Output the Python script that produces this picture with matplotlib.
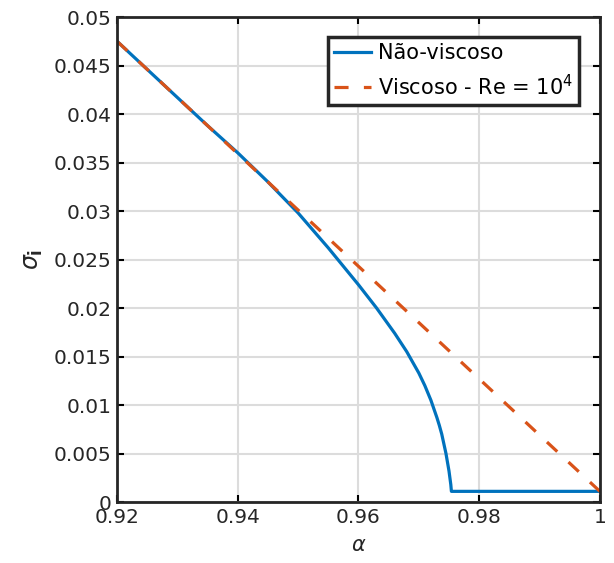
import matplotlib
matplotlib.use("Agg")
import matplotlib.pyplot as plt

# curvas
alpha_inv = [0.92, 0.925, 0.93, 0.935, 0.94, 0.945, 0.95, 0.955, 0.96, 0.963,
             0.966, 0.968, 0.970, 0.971, 0.972, 0.973, 0.9734, 0.9738, 0.9745,
             0.975, 0.9753, 0.9754, 1.0]
sigma_inv = [0.0475, 0.0446, 0.0417, 0.0388, 0.0360, 0.0330, 0.0298, 0.0262,
             0.0224, 0.0200, 0.0174, 0.0155, 0.0133, 0.0120, 0.0105, 0.0087,
             0.0079, 0.0070, 0.0050, 0.0032, 0.0018, 0.0011, 0.0011]

alpha_visc = [0.92, 1.0]
sigma_visc = [0.0475, 0.0011]

xticks = [0.92, 0.94, 0.96, 0.98, 1.0]
xticklabels = ['0.92', '0.94', '0.96', '0.98', '1']
yticks = [0, 0.005, 0.01, 0.015, 0.02, 0.025, 0.03, 0.035, 0.04, 0.045, 0.05]
yticklabels = ['0', '0.005', '0.01', '0.015', '0.02', '0.025', '0.03',
               '0.035', '0.04', '0.045', '0.05']

plt.rcParams['mathtext.fontset'] = 'dejavusans'

fig = plt.figure(figsize=(6.14, 5.63), dpi=100)
ax = fig.add_axes([0.1906, 0.1083, 0.7864, 0.8615])

ax.plot(alpha_inv, sigma_inv, color='#0072BD', lw=2.3, label='Não-viscoso')
ax.plot(alpha_visc, sigma_visc, color='#D95319', lw=2.3, dashes=(4.4, 4.8),
        label='Viscoso - Re = $10^4$')

ax.set_xlim(0.92, 1.0)
ax.set_ylim(0, 0.05)
ax.set_xticks(xticks)
ax.set_xticklabels(xticklabels)
ax.set_yticks(yticks)
ax.set_yticklabels(yticklabels)
ax.tick_params(direction='in', top=True, right=True, length=5, width=1.5,
               labelsize=14.5, labelcolor='#262626', pad=4)
ax.grid(True, color='#dcdcdc', lw=1.5)
ax.set_axisbelow(True)
for s in ax.spines.values():
    s.set_linewidth(2)
    s.set_color('#262626')

ax.set_xlabel(r'$\alpha$', fontsize=15, color='#262626', labelpad=6)
ax.set_ylabel(r'$\sigma_\mathbf{i}$', fontsize=17, color='#262626', labelpad=6)

leg = ax.legend(loc='upper right', bbox_to_anchor=(0.957, 0.959), fontsize=15,
                fancybox=False, framealpha=1, edgecolor='#262626',
                handlelength=1.75, handletextpad=0.35, borderpad=0.3,
                labelspacing=0.5, borderaxespad=0)
leg.get_frame().set_linewidth(2.5)

fig.savefig('out.png', dpi=100)
